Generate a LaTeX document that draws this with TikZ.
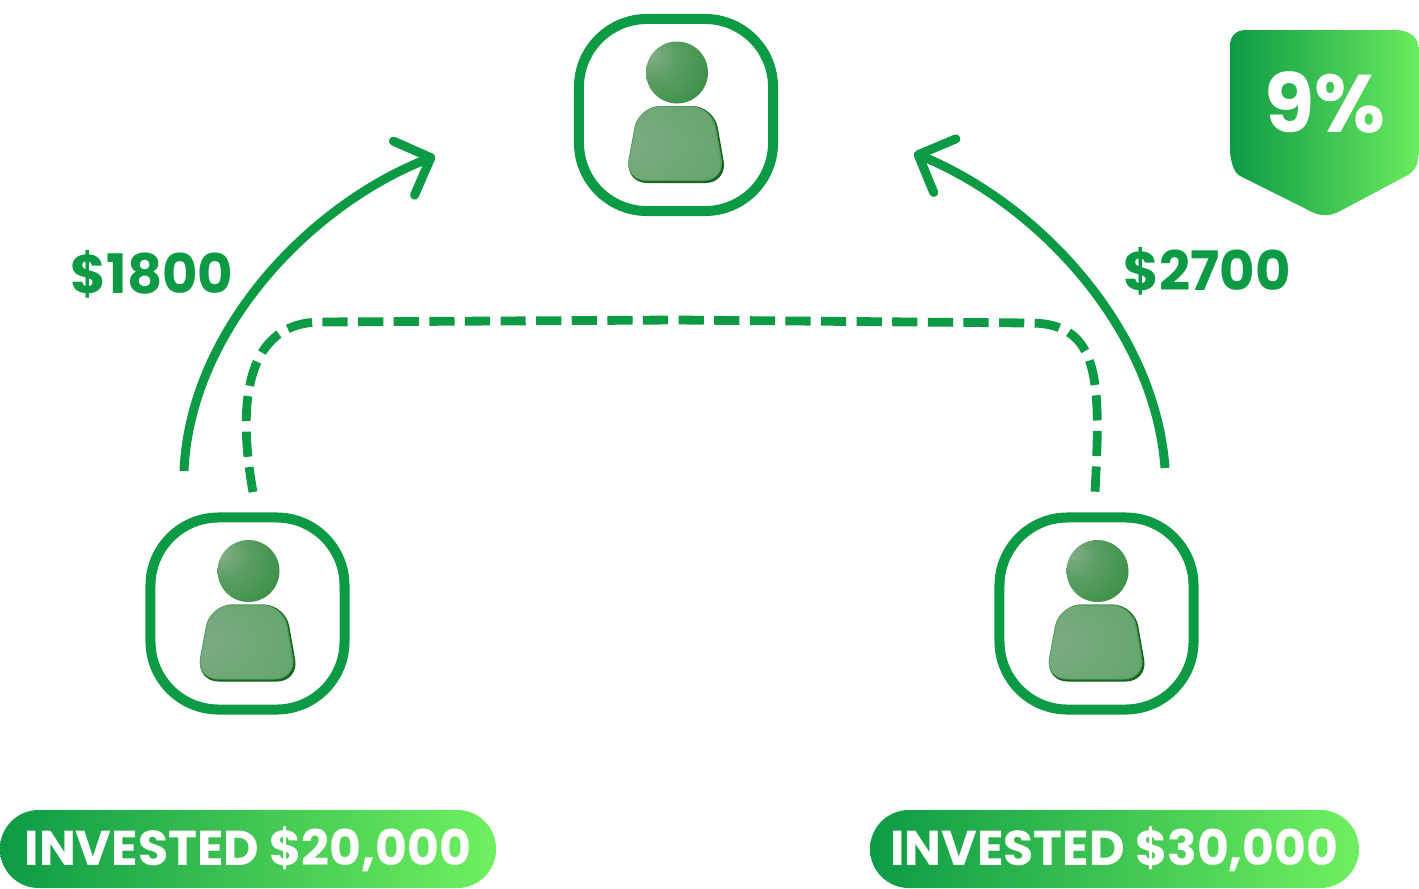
\documentclass[tikz,border=0pt]{standalone}
\usepackage{fontspec}
\setmainfont{Poppins}
\usetikzlibrary{arrows.meta}

\definecolor{leafgreen}{HTML}{0D9A45}
\definecolor{limegreen}{HTML}{70F060}
\definecolor{headlight}{HTML}{86AE8A}
\definecolor{headmid}{HTML}{5B9E64}
\definecolor{headlow}{HTML}{3E9149}
\definecolor{headedge}{HTML}{2C8336}
\definecolor{headdark}{HTML}{17641F}
\definecolor{bodylight}{HTML}{7DAC83}
\definecolor{bodymid}{HTML}{65A56D}
\definecolor{bodylow}{HTML}{569F60}
\definecolor{bodyrim}{HTML}{4F9A59}

\pgfdeclareradialshading{headball}{\pgfpoint{-22bp}{15bp}}{
    color(0bp)=(headlight); color(18bp)=(headmid); color(40bp)=(headlow);
    color(62bp)=(headedge); color(74bp)=(headdark); color(100bp)=(headdark)}
\pgfdeclareradialshading{bodyball}{\pgfpoint{-25bp}{0bp}}{
    color(0bp)=(bodylight); color(45bp)=(bodymid); color(80bp)=(bodylow); color(100bp)=(bodylow)}

\begin{document}
\begin{tikzpicture}[
        x=0.025cm, y=-0.025cm,
        every node/.style={font=\bfseries},
        personbox/.style={draw=leafgreen, line width=0.25cm, rounded corners=1.7cm, minimum width=4.85cm, minimum height=4.8cm},
        investpill/.style={left color=leafgreen, right color=limegreen, rounded corners=0.97cm, minimum height=1.95cm, text=white, inner sep=0pt, font=\bfseries\fontsize{34.8}{35}\selectfont},
        gainlabel/.style={text=leafgreen, inner sep=0pt, font=\bfseries\fontsize{38.7}{39}\selectfont},
        payarrow/.style={draw=leafgreen, line width=0.225cm, -{Straight Barb[length=0.72cm, width=1.45cm, round]}},
        swapline/.style={draw=leafgreen, line width=0.22cm, dash pattern=on 0.63cm off 0.26cm},
        person/.pic={
            \shade[shading=headball] (1,-42.5) circle (31);
            \fill[headdark] (-37,-9) [rounded corners=0.55cm] -- (-51,68) -- (51.5,68) -- (38,-9) -- cycle;
            \fill[bodyrim] (-37.5,-9) [rounded corners=0.55cm] -- (-51.5,66) -- (49.5,66) -- (36.5,-9) -- cycle;
            \shade[shading=bodyball] (-36.5,-8) [rounded corners=0.5cm] -- (-50.5,65) -- (48,65) -- (35,-8) -- cycle;
        }
    ]
    \useasboundingbox (0,0) rectangle (1419,888);

    % Person boxes
    \node[personbox] (topbox) at (676,115) {};
    \node[personbox] (leftbox) at (247.5,613.5) {};
    \node[personbox] (rightbox) at (1096.5,613.5) {};
    \pic at (676,115) {person};
    \pic at (247.5,613.5) {person};
    \pic at (1096.5,613.5) {person};

    % Arrow ends
    \coordinate (leftstart) at (184,471);
    \coordinate (lefttip) at (435,156);
    \coordinate (rightstart) at (1165,468);
    \coordinate (righttip) at (914,153);
    \coordinate (swapleft) at (253,492);
    \coordinate (swapright) at (1095,492);

    % Arrows
    \draw[payarrow] (leftstart) .. controls (190,330) and (310,205) .. (lefttip);
    \draw[payarrow] (rightstart) .. controls (1155,330) and (1040,205) .. (righttip);
    \draw[swapline] (swapleft) .. controls (240,420) and (238,323) .. (320,322) -- (676,320) -- (1030,323) .. controls (1100,323) and (1101,380) .. (swapright);

    % Labels
    \node[gainlabel] (leftgain) at (152,274) {\$1800};
    \node[gainlabel] (rightgain) at (1207,271) {\$2700};
    \node[investpill, minimum width=12.4cm] (leftpill) at (248,849) {INVESTED \$20,000};
    \node[investpill, minimum width=12.22cm] (rightpill) at (1114.5,849) {INVESTED \$30,000};

    % Rate badge
    \shade[left color=leafgreen, right color=limegreen!95!leafgreen]
        (1246,30) -- (1395,30) .. controls (1410,30) and (1419,38) .. (1419,50)
        -- (1419,150) .. controls (1419,162) and (1416,170) .. (1408,175)
        -- (1342,210) .. controls (1330,217) and (1320,217) .. (1308,210)
        -- (1240,176) .. controls (1233,172) and (1230,160) .. (1230,145)
        -- (1230,46) .. controls (1230,36) and (1236,30) .. (1246,30) -- cycle;
    \node[text=white, inner sep=0pt, font=\bfseries\fontsize{58}{58}\selectfont] (rate) at (1325,102) {9\%};
\end{tikzpicture}
\end{document}
